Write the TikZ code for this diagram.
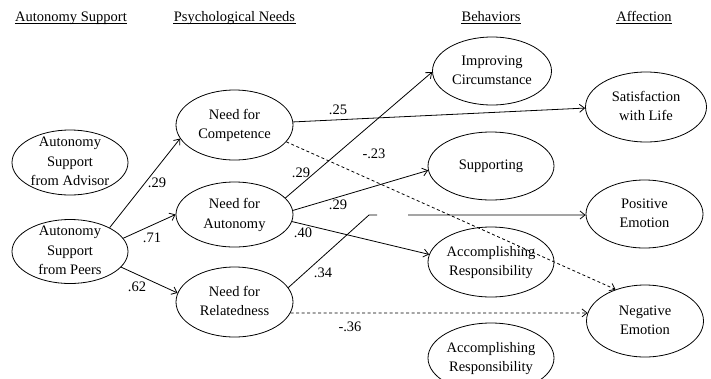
\documentclass[tikz,border=0pt]{standalone}
\usepackage{fontspec}
\setmainfont{Liberation Serif}
\usetikzlibrary{shapes.geometric,arrows.meta}
\newcommand\elltx[1]{\raisebox{-3.6pt}[0pt][0pt]{\begin{tabular}{@{}c@{}}#1\end{tabular}}}
\begin{document}
\begin{tikzpicture}[x=1pt,y=-1pt,line width=0.8pt,
  every node/.style={font=\fontsize{14.5}{19.5}\selectfont},
  ell/.style={draw, ellipse, inner sep=0pt},
  hdr/.style={anchor=base, inner sep=0pt},
  lbl/.style={inner sep=0pt},
  arr/.style={-{Straight Barb[length=5pt,width=8pt]}},
  dsh/.style={dash pattern=on 3pt off 2.5pt}
]
\useasboundingbox (0,0) rectangle (711,378);
\clip (0,0) rectangle (711,378);
% headers
\node[hdr] (h1) at (71,21.5) {Autonomy Support};
\node[hdr] (h2) at (234.5,21.5) {Psychological Needs};
\node[hdr] (h3) at (491,21.5) {Behaviors};
\node[hdr] (h4) at (644,21.5) {Affection};
\foreach \h in {h1,h2,h3,h4}{
  \draw[line width=0.7pt] ([yshift=-2.2pt]\h.base west) -- ([yshift=-2.2pt]\h.base east);
}
% ellipses
\node[ell, minimum width=116pt, minimum height=65pt] (adv) at (70,162.5) {\elltx{Autonomy\\Support\\from Advisor}};
\node[ell, minimum width=116pt, minimum height=64pt] (peers) at (70,251.5) {\elltx{Autonomy\\Support\\from Peers}};
\node[ell, minimum width=117pt, minimum height=70pt] (comp) at (234.5,125) {\elltx{Need for\\Competence}};
\node[ell, minimum width=117pt, minimum height=65pt] (aut) at (234.5,214.5) {\elltx{Need for\\Autonomy}};
\node[ell, minimum width=117pt, minimum height=70pt] (rel) at (234.5,302) {\elltx{Need for\\Relatedness}};
\node[ell, minimum width=119pt, minimum height=68pt] (imp) at (492,71) {\elltx{Improving\\Circumstance}};
\node[ell, minimum width=126pt, minimum height=68pt] (sup) at (491,166) {\elltx{Supporting}};
\node[ell, minimum width=126pt, minimum height=70pt] (acc1) at (491,262) {\elltx{Accomplishing\\Responsibility}};
\node[ell, minimum width=126pt, minimum height=70pt] (acc2) at (491,358) {\elltx{Accomplishing\\Responsibility}};
\node[ell, minimum width=121pt, minimum height=70pt] (sat) at (646,107) {\elltx{Satisfaction\\with Life}};
\node[ell, minimum width=117pt, minimum height=68pt] (pos) at (644.5,214) {\elltx{Positive\\Emotion}};
\node[ell, minimum width=117pt, minimum height=72pt] (neg) at (645,321) {\elltx{Negative\\Emotion}};
% coefficient labels
\node[lbl] (l1) at (157,183) {.29};
\node[lbl] (l2) at (152,238) {.71};
\node[lbl] (l3) at (137,287) {.62};
\node[lbl] (l4) at (338,110) {.25};
\node[lbl] (l5) at (374,154) {-.23};
\node[lbl] (l6) at (301,173) {.29};
\node[lbl] (l7) at (338,205) {.29};
\node[lbl] (l8) at (303,233) {.40};
\node[lbl] (l9) at (323,273) {.34};
\node[lbl] (l10) at (350,327) {-.36};
% bend points of the broken path
\coordinate (k1) at (369,215);
\coordinate (k2) at (377,215);
\coordinate (k3) at (408,215);
% connectors
\draw[arr] (peers.31) -- (comp.194);
\draw[arr] (peers.14) -- (aut.180);
\draw[arr] (peers.343) -- (rel.171);
\draw[arr] (comp.3) -- (sat.181);
\draw[arr,dsh] (comp.342) -- (neg.133);
\draw[arr] (aut.18) -- (imp.181);
\draw[arr] (aut.4) -- (sup.184);
\draw[arr] (aut.353) -- (acc1.173);
\draw (rel.15) -- (k1) -- (k2);
\draw[arr] (k3) -- (pos.181);
\draw[arr,dsh] (rel.349) -- (neg.172);
\end{tikzpicture}
\end{document}
